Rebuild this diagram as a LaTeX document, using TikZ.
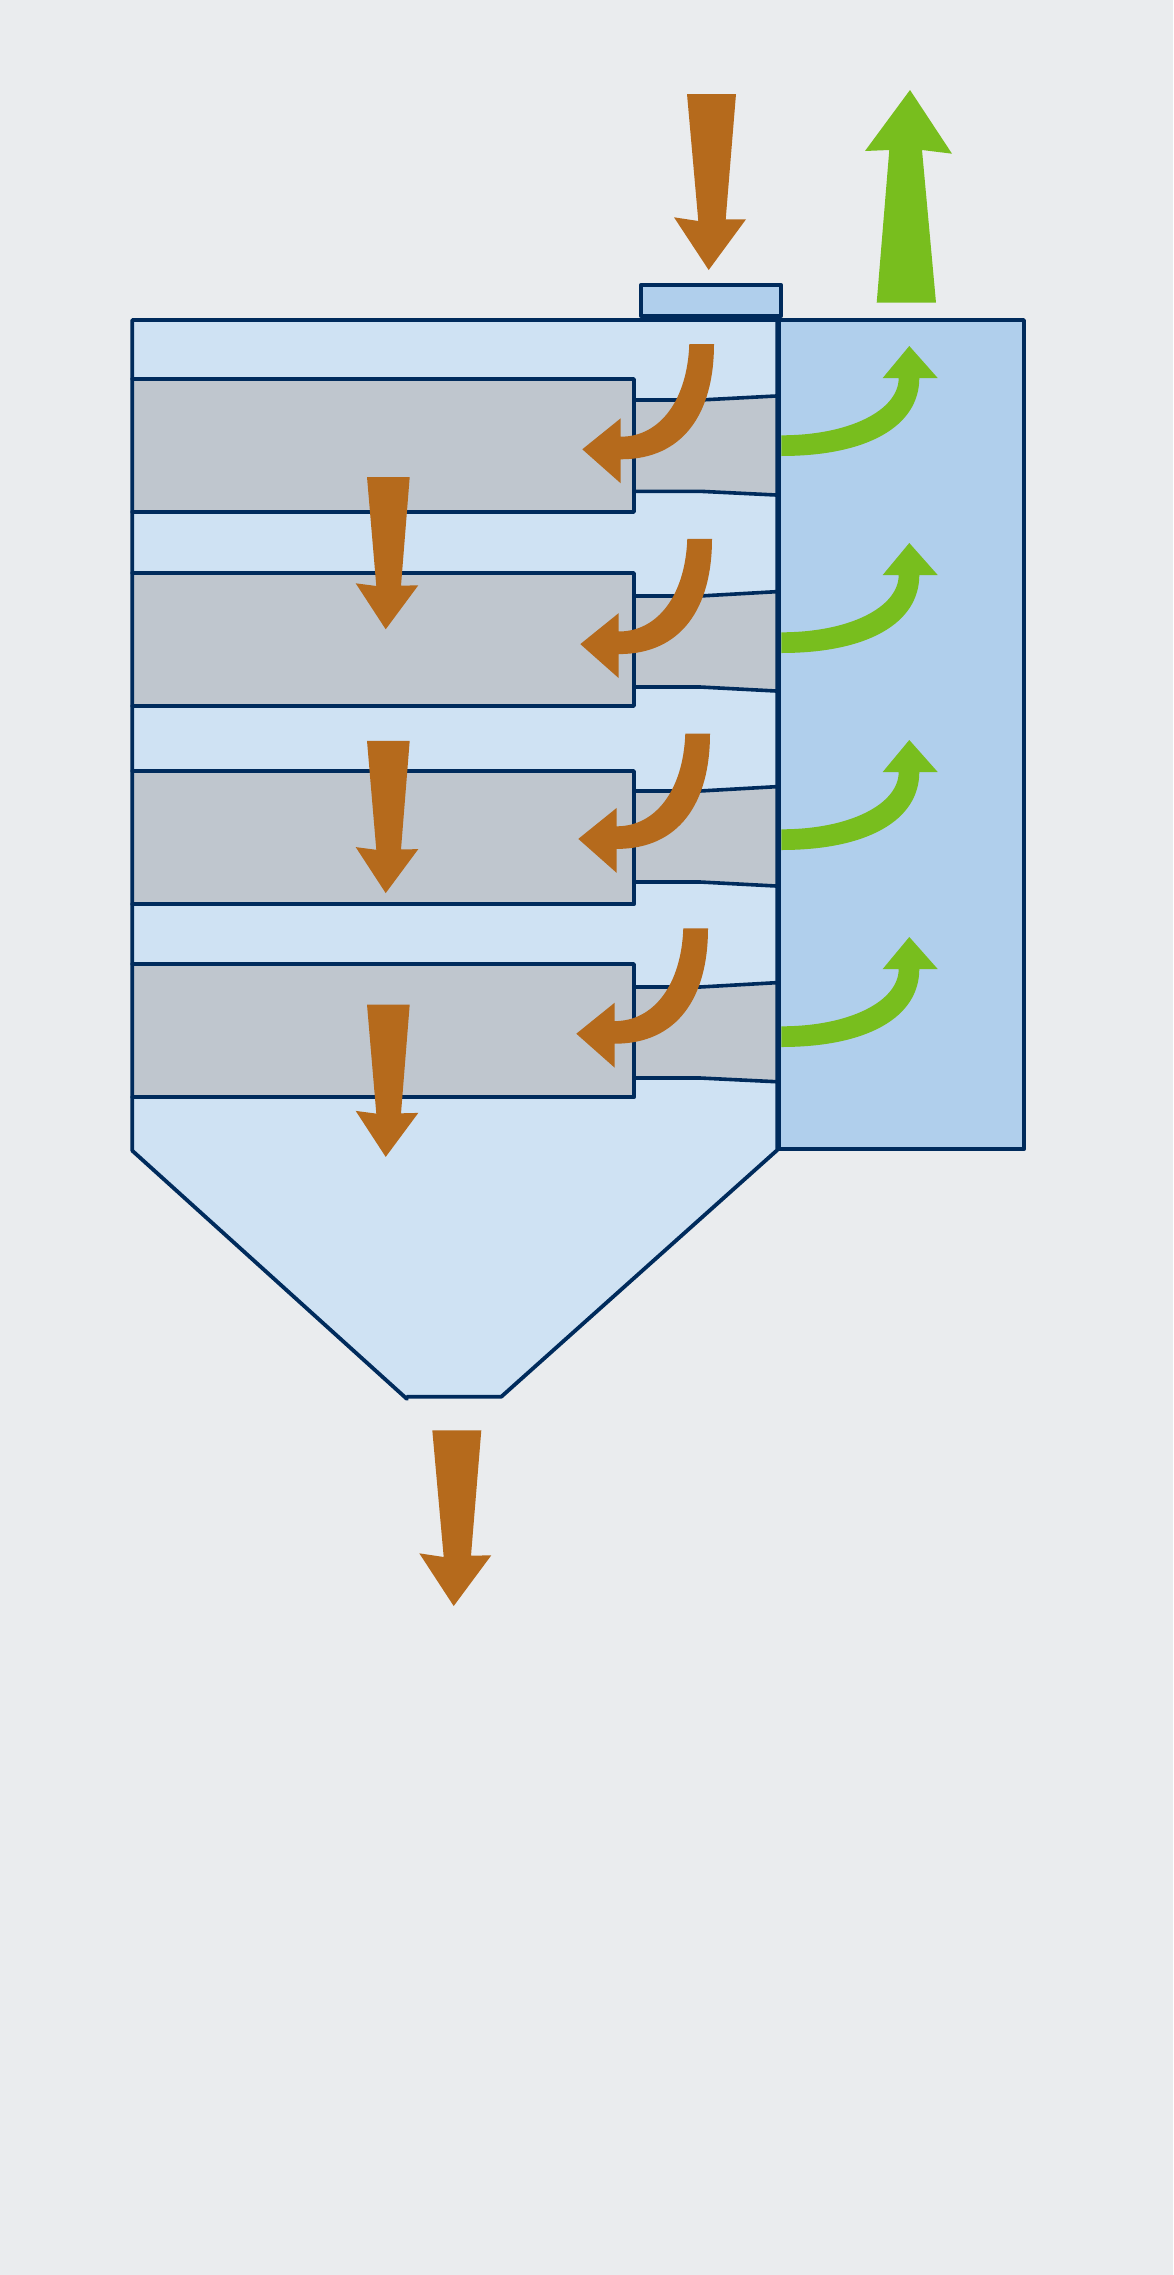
\documentclass[tikz,border=0pt]{standalone}
\definecolor{bgc}{RGB}{234,236,238}
\definecolor{lightb}{RGB}{207,226,243}
\definecolor{midb}{RGB}{176,207,236}
\definecolor{grayb}{RGB}{191,198,206}
\definecolor{navy}{RGB}{0,43,92}
\definecolor{brownf}{RGB}{181,106,28}
\definecolor{greenf}{RGB}{120,190,30}
\tikzset{
  outline/.style={draw=navy,line width=3.8pt,line join=round,line cap=round},
  neckline/.style={draw=navy,line width=3.6pt},
  brownarrow/.style={fill=brownf,draw=none},
  greenarrow/.style={fill=greenf,draw=none}
}
\begin{document}
\begin{tikzpicture}[x=1pt,y=-1pt]
\useasboundingbox[fill=bgc] (0,0) rectangle (1173,2275);
% main vessel
\fill[lightb] (132.3,320) -- (777.3,320) -- (777.3,1150) -- (501.3,1396.7) -- (407,1396.7) -- (132.3,1150.7) -- cycle;
% right chamber
\fill[midb] (779,320) rectangle (1024,1149.3);
% gray plates with their necks
\foreach \t/\b/\ua/\ub/\la/\lb in {379/512/400/396/491.3/495, 573/706/596/591.7/687/691, 771/904.3/791/786.7/882/886, 964/1097.3/987/982.7/1078/1081.7}{
  \fill[grayb] (132.3,\t) rectangle (634,\b);
  \fill[grayb] (634,\ua) -- (700,\ua) -- (776,\ub) -- (776,\lb) -- (700,\la) -- (634,\la) -- cycle;
  \draw[neckline] (634,\ua) -- (700,\ua) -- (776,\ub);
  \draw[neckline] (634,\la) -- (700,\la) -- (776,\lb);
  \draw[outline] (132.3,\t) -- (634,\t) -- (634,\b) -- (132.3,\b);
}
% vessel outline
\draw[outline] (407,1399) -- (132.3,1150.7) -- (132.3,320) -- (777.3,320) -- (777.3,1150) -- (501.3,1396.7) -- (407,1396.7);
\draw[outline] (779,320) -- (1024,320) -- (1024,1149.3) -- (779,1149.3) -- cycle;
% inlet box
\draw[outline,fill=midb] (640.7,285) rectangle (781.3,316);
\draw[navy,line width=5pt] (640.7,317.5) -- (781.3,317.5);
% straight arrows inside
\foreach \d in {0,263.8,527.6}{
  \fill[brownarrow,shift={(0,\d)}] (367,477) -- (409.7,477) -- (401,585.7) -- (418.3,585.3) -- (385.7,629.3) -- (355.7,583.3) -- (376.3,586) -- cycle;
}
% curved arrows
\foreach \k in {0,1,2,3}{
  \begin{scope}[shift={(-2*\k,194.8*\k)}]
    \fill[brownarrow] (689.3,344) -- (714,344) .. controls (714,413.3) and (683.3,459.3) .. (620.7,459.3)
      -- (620.7,483.3) -- (582.3,449.3) -- (620.7,418.3) -- (620.7,436.7)
      .. controls (660,436.7) and (687.3,400) .. (689.3,344) -- cycle;
  \end{scope}
  \begin{scope}[shift={(0,197*\k)}]
    \fill[greenarrow] (781.3,435.3) .. controls (850,435.3) and (898.7,410) .. (898.7,378)
      -- (882.7,378) -- (909.3,346) -- (937.7,378) -- (919.3,378)
      .. controls (919.3,426.7) and (866.7,456) .. (781.3,456) -- cycle;
  \end{scope}
}
% top inlet arrow
\fill[brownarrow] (687,94) -- (736,94) -- (725.7,219.3) -- (746,219.3) -- (708.7,270) -- (674,217.3) -- (698.3,221) -- cycle;
% top outlet arrow
\fill[greenarrow] (876.7,302.7) -- (889.3,150) -- (865,151) -- (910,90) -- (952,153.7) -- (922,150) -- (936,302.7) -- cycle;
% bottom outlet arrow
\fill[brownarrow] (432.3,1430.3) -- (481.3,1430.3) -- (471,1555.7) -- (491.3,1555.3) -- (453.7,1606) -- (419.3,1553.3) -- (443.7,1557) -- cycle;
\end{tikzpicture}
\end{document}
